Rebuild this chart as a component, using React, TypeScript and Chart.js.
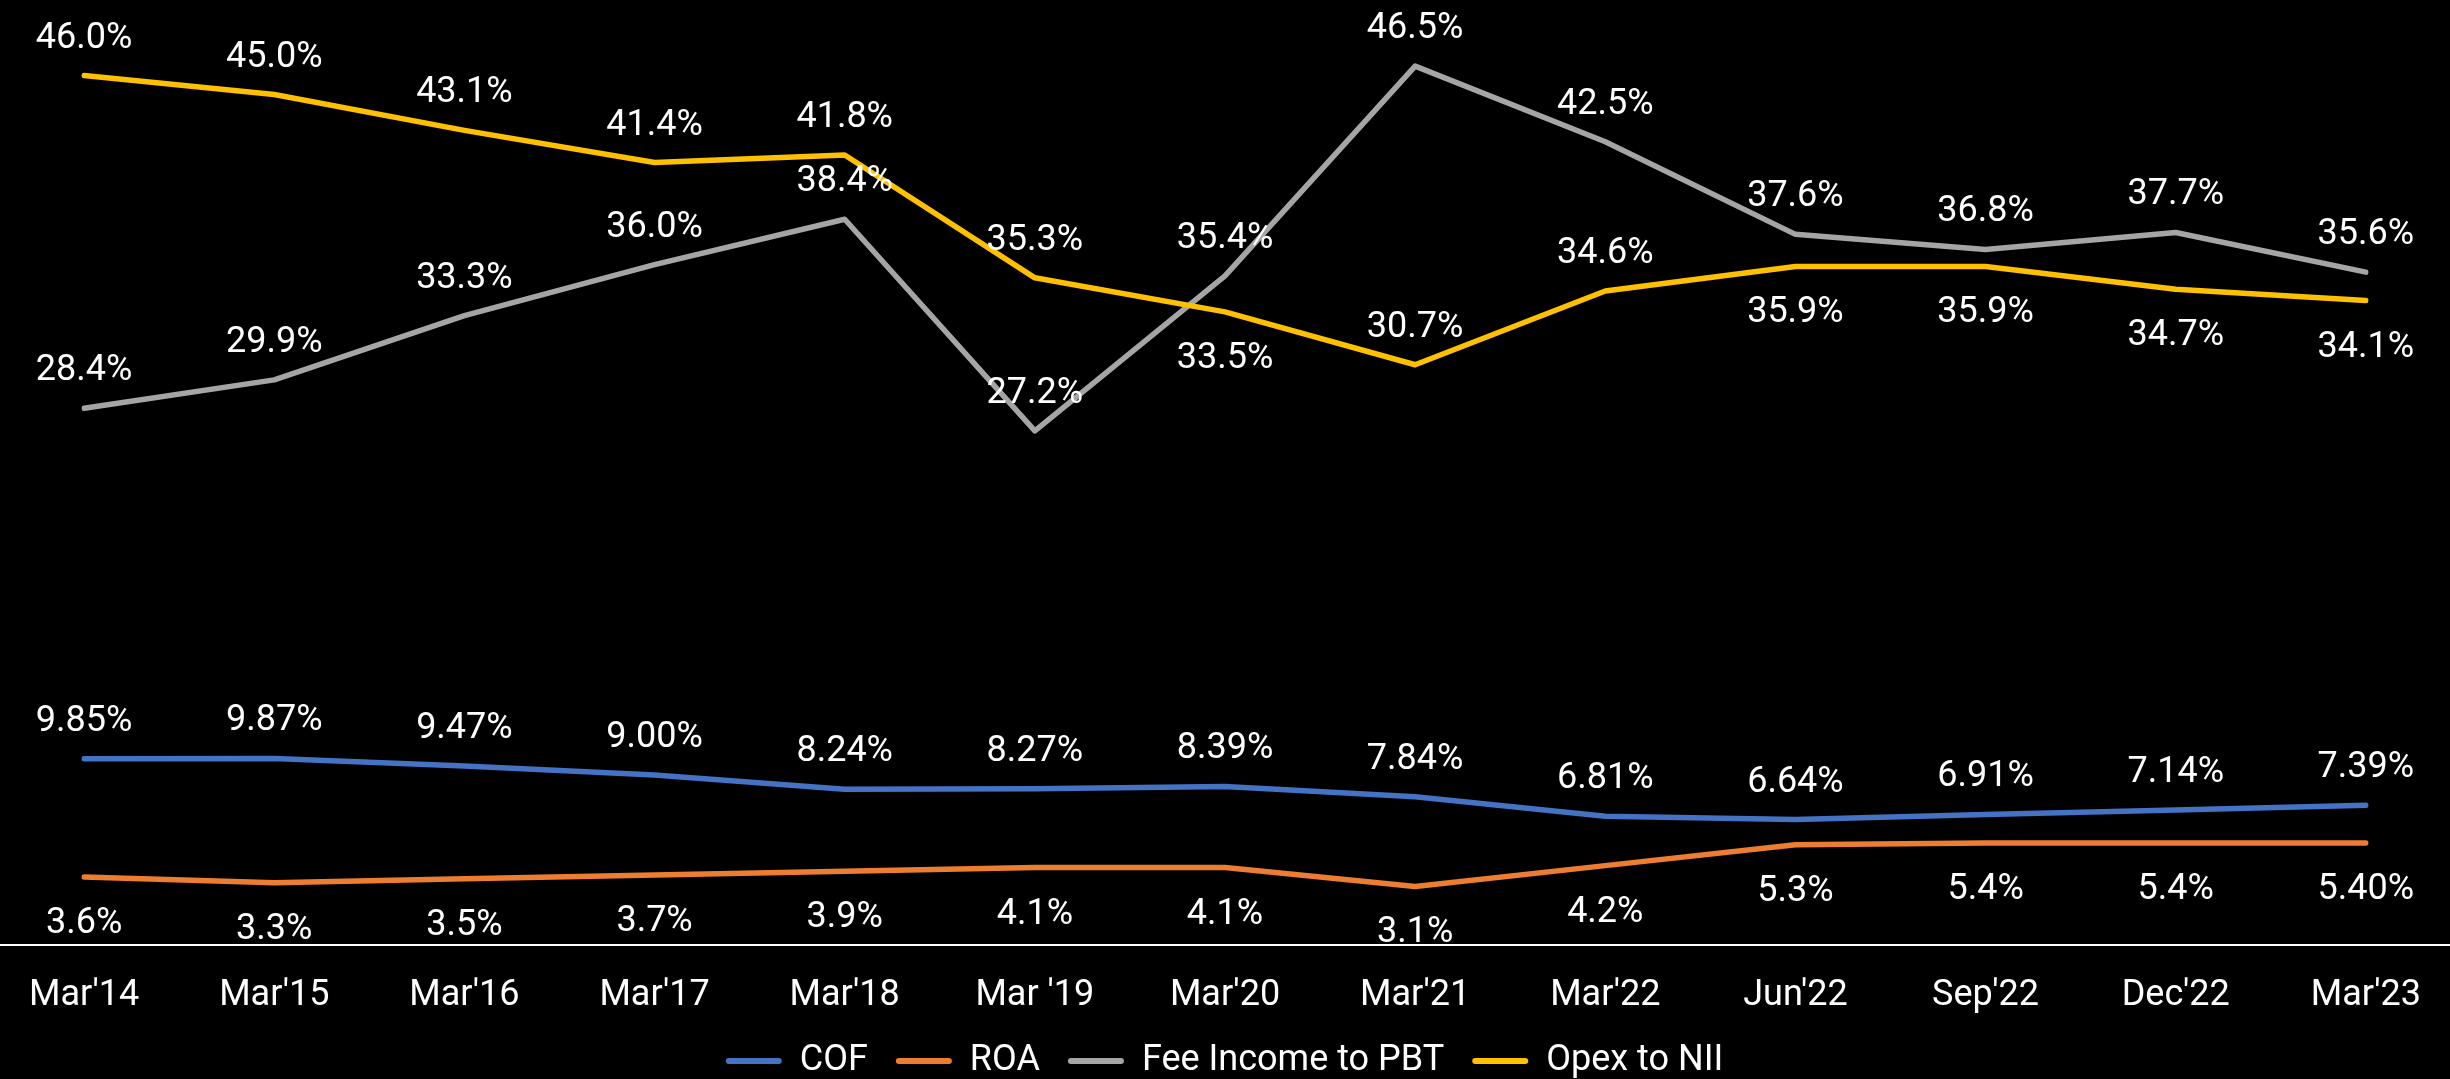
import React, { useEffect, useRef } from "react";
import { Chart, registerables } from "chart.js";

Chart.register(...registerables);

const categories = ["Mar'14", "Mar'15", "Mar'16", "Mar'17", "Mar'18", "Mar '19", "Mar'20", "Mar'21", "Mar'22", "Jun'22", "Sep'22", "Dec'22", "Mar'23"];
const cof = [9.85, 9.87, 9.47, 9.0, 8.24, 8.27, 8.39, 7.84, 6.81, 6.64, 6.91, 7.14, 7.39];
const roa = [3.6, 3.3, 3.5, 3.7, 3.9, 4.1, 4.1, 3.1, 4.2, 5.3, 5.4, 5.4, 5.4];
const roaDecimals = [1, 1, 1, 1, 1, 1, 1, 1, 1, 1, 1, 1, 2];
const feeIncomeToPbt = [28.4, 29.9, 33.3, 36.0, 38.4, 27.2, 35.4, 46.5, 42.5, 37.6, 36.8, 37.7, 35.6];
const opexToNii = [46.0, 45.0, 43.1, 41.4, 41.8, 35.3, 33.5, 30.7, 34.6, 35.9, 35.9, 34.7, 34.1];
const opexLabelBelow = [false, false, false, false, false, false, true, false, false, true, true, true, true];

const FONT = "Roboto, 'Noto Sans', sans-serif";
const W = 2450;
const H = 1089;

const dataLabelPlugin = {
  id: "pointLabels",
  afterDatasetsDraw(chart: any) {
    const ctx = chart.ctx;
    ctx.save();
    ctx.font = `36px ${FONT}`;
    ctx.fillStyle = "#ffffff";
    ctx.textAlign = "center";
    ctx.textBaseline = "middle";
    chart.data.datasets.forEach((ds: any, di: number) => {
      const meta = chart.getDatasetMeta(di);
      meta.data.forEach((pt: any, i: number) => {
        const text = ds.labelText[i];
        const below = ds.labelBelow[i];
        ctx.fillText(text, pt.x, pt.y + (below ? 47 : -37));
      });
    });
    ctx.restore();
  },
};

const baselinePlugin = {
  id: "baseline",
  beforeDatasetsDraw(chart: any) {
    const ctx = chart.ctx;
    const y = chart.scales.y.getPixelForValue(0);
    ctx.save();
    ctx.fillStyle = "#ffffff";
    ctx.fillRect(0, Math.round(y) - 1, chart.width, 2);
    ctx.restore();
  },
};

export default function App() {
  const ref = useRef<HTMLCanvasElement | null>(null);

  useEffect(() => {
    if (!ref.current) return;
    const mk = (label: string, data: number[], color: string, order: number, labelText: string[], labelBelow: boolean[]) => ({
      label,
      data,
      borderColor: color,
      backgroundColor: color,
      borderWidth: 5.5,
      borderCapStyle: "round",
      borderJoinStyle: "round",
      pointRadius: 0,
      pointHoverRadius: 0,
      tension: 0,
      fill: false,
      order,
      labelText,
      labelBelow,
    });

    const chart = new Chart(ref.current, {
      type: "line",
      data: {
        labels: categories,
        datasets: [
          mk("COF", cof, "#4472C4", 4, cof.map((v) => v.toFixed(2) + "%"), cof.map(() => false)),
          mk("ROA", roa, "#ED7D31", 3, roa.map((v, i) => v.toFixed(roaDecimals[i]) + "%"), roa.map(() => true)),
          mk("Fee Income to PBT", feeIncomeToPbt, "#A5A5A5", 2, feeIncomeToPbt.map((v) => v.toFixed(1) + "%"), feeIncomeToPbt.map(() => false)),
          mk("Opex to NII", opexToNii, "#FFC000", 1, opexToNii.map((v) => v.toFixed(1) + "%"), opexLabelBelow),
        ] as any,
      },
      options: {
        animation: false,
        responsive: false,
        devicePixelRatio: 1,
        layout: { padding: { left: 72, right: 73, top: 0, bottom: 0 } },
        plugins: {
          tooltip: { enabled: false },
          legend: {
            position: "bottom",
            align: "center",
            labels: {
              color: "#ffffff",
              font: { family: FONT, size: 36 },
              boxWidth: 56,
              boxHeight: 6,
              useBorderRadius: true,
              borderRadius: 3,
              padding: 28,
              sort: (a: any, b: any) => a.datasetIndex - b.datasetIndex,
              generateLabels: (chart: any) => {
                const items = (Chart.defaults.plugins.legend.labels as any).generateLabels(chart);
                return items.map((it: any) => ({ ...it, lineWidth: 0, fillStyle: it.strokeStyle }));
              },
            },
          },
        },
        scales: {
          x: {
            offset: false,
            grid: { display: false, drawTicks: false },
            border: { display: false },
            afterFit: (scale: any) => {
              scale.height = 70;
            },
            ticks: {
              color: "#ffffff",
              font: { family: FONT, size: 36 },
              padding: 29,
              autoSkip: false,
              maxRotation: 0,
            },
          },
          y: {
            display: false,
            min: 0,
            max: 50,
          },
        },
      } as any,
      plugins: [baselinePlugin, dataLabelPlugin],
    });
    return () => chart.destroy();
  }, []);

  return (
    <div style={{ position: "fixed", left: 0, top: 0, width: W, height: 1079, overflow: "hidden", background: "#000000" }}>
      <canvas ref={ref} width={W} height={H} style={{ display: "block", width: W, height: H }} />
    </div>
  );
}
